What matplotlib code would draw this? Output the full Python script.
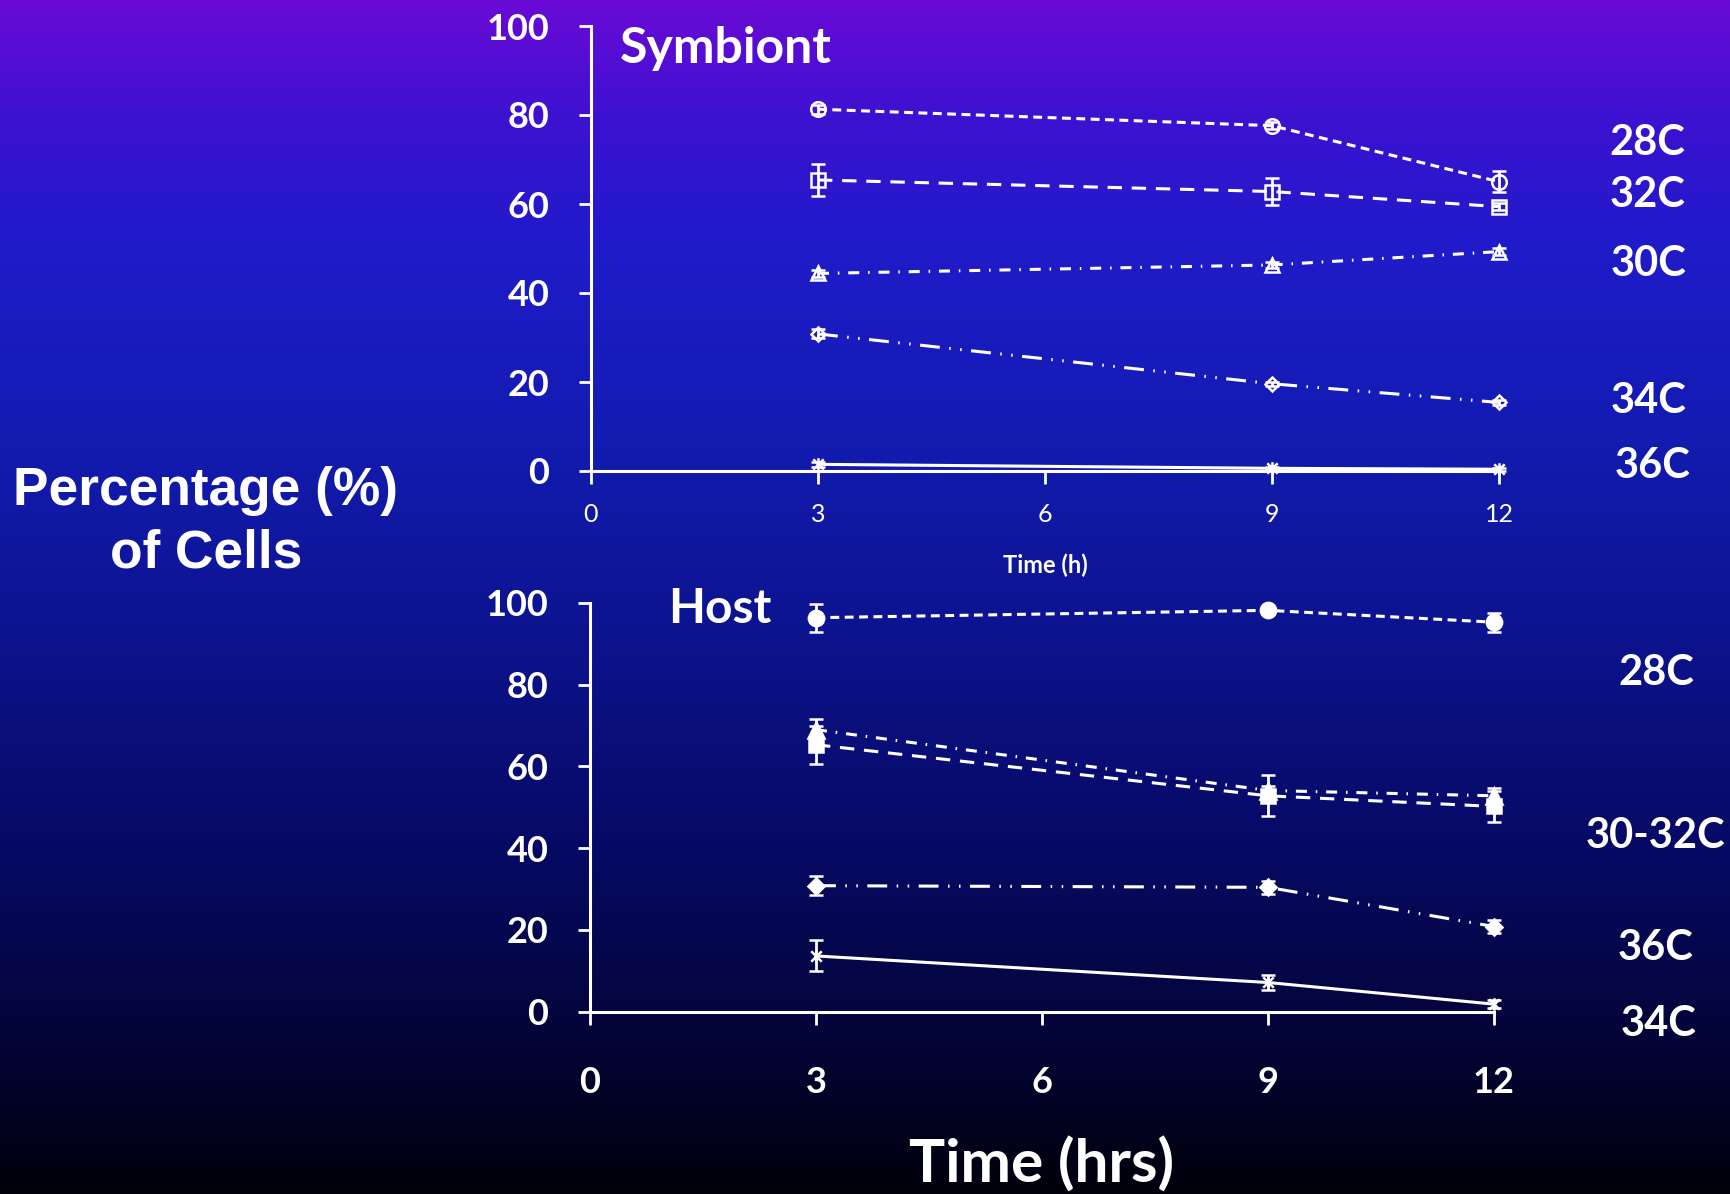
import numpy as np
import matplotlib
matplotlib.use("Agg")
import matplotlib.pyplot as plt
from matplotlib.path import Path
from matplotlib.colors import LinearSegmentedColormap

# ---- data ----
hours = [3, 9, 12]

sym_labels = ["28C", "32C", "30C", "34C", "36C"]
sym_28 = [81.3, 77.6, 65.0]
sym_28_err = [1.0, 0.8, 2.4]
sym_32 = [65.4, 62.8, 59.4]
sym_32_err = [3.6, 3.1, 0.8]
sym_30 = [44.4, 46.3, 49.3]
sym_30_err = [0.8, 0.6, 0.8]
sym_34 = [30.8, 19.6, 15.4]
sym_34_err = [1.0, 0.5, 0.5]
sym_36 = [1.5, 0.6, 0.4]
sym_36_err = [0.5, 0.3, 0.3]

host_labels = ["28C", "30-32C", "36C", "34C"]
host_28 = [96.4, 98.2, 95.3]
host_28_err = [3.4, 0.8, 2.3]
host_30 = [69.0, 54.1, 52.8]
host_30_err = [2.5, 1.2, 2.0]
host_32 = [65.3, 52.8, 50.2]
host_32_err = [4.6, 5.0, 3.8]
host_36 = [30.8, 30.4, 20.8]
host_36_err = [2.4, 1.6, 1.5]
host_34 = [13.6, 7.1, 1.8]
host_34_err = [3.8, 1.8, 1.0]

x_ticks = [0, 3, 6, 9, 12]
y_ticks = [0, 20, 40, 60, 80, 100]

W, H = 1731, 1194
fig = plt.figure(figsize=(W / 100, H / 100), dpi=100)

# ---- background gradient ----
bg = fig.add_axes([0, 0, 1, 1], zorder=-10)
bg.axis("off")
stops = [
    (0.00, (106, 10, 214)),
    (0.10, (60, 18, 208)),
    (0.20, (32, 27, 202)),
    (0.35, (20, 28, 180)),
    (0.52, (13, 20, 145)),
    (0.70, (7, 10, 102)),
    (0.85, (4, 5, 62)),
    (1.00, (0, 0, 12)),
]
cmap = LinearSegmentedColormap.from_list(
    "bg", [(p, tuple(c / 255 for c in rgb)) for p, rgb in stops])
grad = np.linspace(0, 1, 512).reshape(-1, 1)
bg.imshow(grad, aspect="auto", cmap=cmap, extent=[0, 1, 0, 1], origin="upper")
bg.set_xlim(0, 1)
bg.set_ylim(0, 1)

# Excel-style star marker: an X crossed by a vertical bar
star = Path(
    [(-1, -1), (1, 1), (-1, 1), (1, -1), (0, -1.2), (0, 1.2)],
    [Path.MOVETO, Path.LINETO, Path.MOVETO, Path.LINETO, Path.MOVETO, Path.LINETO],
)

LW = 2.2
STY_28 = (0, (2.9, 1.8))
STY_32 = (0, (4.7, 3.2))
STY_30 = (0, (3.6, 2.9, 0.5, 2.9))
STY_34 = (0, (6.5, 3.1, 0.5, 3.1, 0.5, 3.1))

calibri = "Lato"
arial = "Liberation Sans"


def fx(px):
    return px / W


def fy(py):
    return 1 - py / H


def series(ax, y, err, marker, ms, ls, filled):
    ax.errorbar(
        hours, y, yerr=err, color="white", lw=LW, linestyle=ls,
        marker=marker, markersize=ms,
        markerfacecolor="white" if filled else "none",
        markeredgecolor="white", markeredgewidth=1.8,
        ecolor="white", elinewidth=2.0, capsize=5, capthick=2.0,
        clip_on=False, zorder=5, dash_capstyle="butt",
    )


def style_axes(ax, bold_x, xsize, xpad):
    ax.set_facecolor("none")
    ax.set_xlim(0, 12)
    ax.set_ylim(0, 100)
    for s in ["top", "right"]:
        ax.spines[s].set_visible(False)
    for s in ["left", "bottom"]:
        ax.spines[s].set_color("white")
        ax.spines[s].set_linewidth(2.2)
    ax.set_xticks(x_ticks)
    ax.set_yticks(y_ticks)
    ax.tick_params(axis="y", direction="out", length=9, width=2, colors="white",
                   pad=21, labelsize=26)
    ax.tick_params(axis="x", direction="out", length=9, width=2, colors="white",
                   pad=xpad, labelsize=xsize)
    for lab in ax.get_yticklabels():
        lab.set_fontfamily(calibri)
        lab.set_fontweight("bold")
    for lab in ax.get_xticklabels():
        lab.set_fontfamily(calibri)
        lab.set_fontweight("bold" if bold_x else "normal")


# ---- Symbiont panel ----
ax1 = fig.add_axes([fx(591), fy(471), fx(1499 - 591), (471 - 26) / H])
style_axes(ax1, bold_x=False, xsize=18, xpad=14)
series(ax1, sym_28, sym_28_err, "o", 10.5, STY_28, False)
series(ax1, sym_32, sym_32_err, "s", 10.5, STY_32, False)
series(ax1, sym_30, sym_30_err, "^", 10.5, STY_30, False)
series(ax1, sym_34, sym_34_err, "D", 7.5, STY_34, False)
series(ax1, sym_36, sym_36_err, star, 9, "-", False)

# ---- Host panel ----
ax2 = fig.add_axes([fx(590), fy(1011.5), fx(1494 - 590), (1011.5 - 603) / H])
style_axes(ax2, bold_x=True, xsize=26, xpad=30)
series(ax2, host_28, host_28_err, "o", 11, STY_28, True)
series(ax2, host_30, host_30_err, "^", 11, STY_30, True)
series(ax2, host_32, host_32_err, "s", 10, STY_32, True)
series(ax2, host_36, host_36_err, "D", 8, STY_34, True)
series(ax2, host_34, host_34_err, star, 9, "-", False)

# ---- titles and labels ----
txt = dict(color="white", fontweight="bold")
fig.text(fx(620), fy(63), "Symbiont", fontsize=36, family=calibri, ha="left", va="baseline", **txt)
fig.text(fx(668), fy(623), "Host", fontsize=34.5, family=calibri, ha="left", va="baseline", **txt)
fig.text(fx(1045), fy(573), "Time (h)", fontsize=17, family=calibri, ha="center", va="baseline", **txt)
fig.text(fx(1042), fy(1183), "Time (hrs)", fontsize=43.5, family=calibri, ha="center", va="baseline", **txt)
fig.text(fx(206), fy(505), "Percentage (%)", fontsize=38.3, family=arial, ha="center", va="baseline", **txt)
fig.text(fx(206), fy(568), "of Cells", fontsize=38.3, family=arial, ha="center", va="baseline", **txt)

sym_label_pos = [(1609, 155), (1610, 207), (1611, 276), (1611, 413), (1615, 478)]
for lab, (px, py) in zip(sym_labels, sym_label_pos):
    fig.text(fx(px), fy(py), lab, fontsize=30, family=calibri, ha="left", va="baseline", **txt)

host_label_pos = [(1618, 685), (1586, 848), (1618, 960), (1621, 1036)]
for lab, (px, py) in zip(host_labels, host_label_pos):
    fig.text(fx(px), fy(py), lab, fontsize=30, family=calibri, ha="left", va="baseline", **txt)

fig.savefig("out.png", dpi=100)
